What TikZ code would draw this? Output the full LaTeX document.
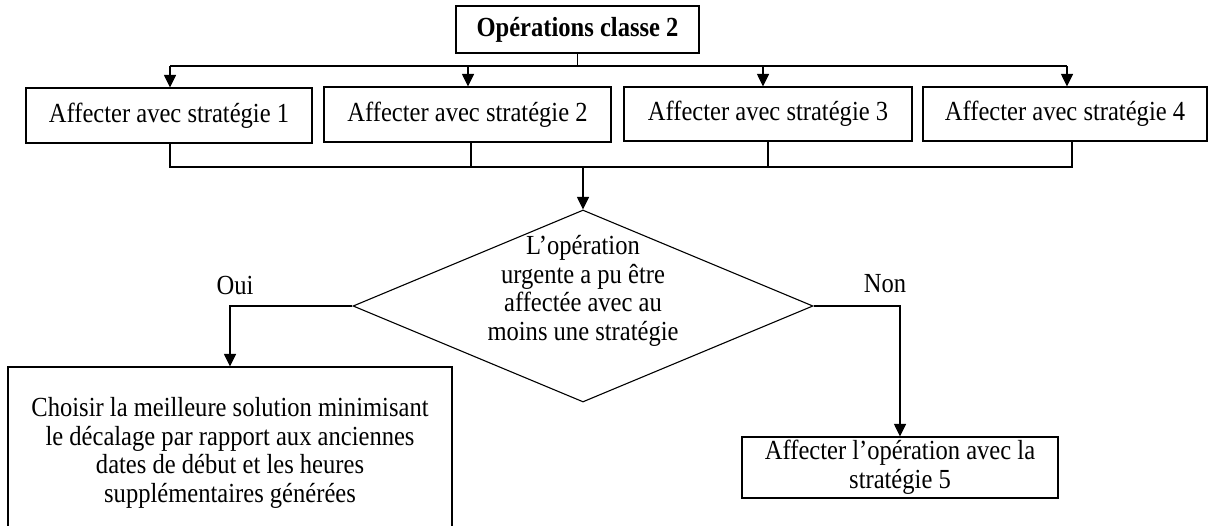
\documentclass[tikz,border=0pt]{standalone}
\usepackage{fontspec}
\setmainfont{Liberation Serif}[FakeStretch=0.89]
\usetikzlibrary{shapes.geometric,arrows.meta,calc}
\begin{document}
\begin{tikzpicture}[x=1pt,y=-1pt, line width=1.1pt,
  txt/.style={font=\fontsize{27.6}{28.7}\selectfont},
  box/.style={draw, rectangle, inner sep=0pt, align=center, txt},
  arr/.style={-{Triangle[length=12.5pt,width=12pt]}},
  lbl/.style={txt, inner sep=0pt, align=center}]
\useasboundingbox (0,0) rectangle (1210,525);
\clip (0,0) rectangle (1210,525);

% top box
\node[box, minimum width=243pt, minimum height=47pt, font=\bfseries\fontsize{27.6}{28.7}\selectfont] (top) at (577.5,29.5) {Opérations classe 2};

% strategy boxes
\node[box, minimum width=286pt, minimum height=55pt] (s1) at (169,115.5) {Affecter avec stratégie 1};
\node[box, minimum width=287pt, minimum height=55pt] (s2) at (467.5,114.5) {Affecter avec stratégie 2};
\node[box, minimum width=288pt, minimum height=54pt] (s3) at (768,114) {Affecter avec stratégie 3};
\node[box, minimum width=284pt, minimum height=54pt] (s4) at (1065,114) {Affecter avec stratégie 4};

% distribution line
\coordinate (h1) at (170,66);
\coordinate (h2) at (468,66);
\coordinate (h3) at (763,66);
\coordinate (h4) at (1067,66);
\draw (top.south) -- (top.south |- h1);
\draw (h1) -- (h4);
\draw[arr] (h1) -- (h1 |- s1.north);
\draw[arr] (h2) -- (h2 |- s2.north);
\draw[arr] (h3) -- (h3 |- s3.north);
\draw[arr] (h4) -- (h4 |- s4.north);

% collecting line
\coordinate (b1) at (170,167);
\coordinate (b2) at (471,167);
\coordinate (b3) at (768,167);
\coordinate (b4) at (1072,167);
\coordinate (bm) at (583,167);
\draw (b1 |- s1.south) -- (b1) -- (b4) -- (b4 |- s4.south);
\draw (b2 |- s2.south) -- (b2);
\draw (b3 |- s3.south) -- (b3);

% decision
\node[draw, diamond, minimum width=460pt, minimum height=192pt, inner sep=0pt] (d) at (583,306) {};
\node[lbl] (dt) at (583,291) {L’opération\\urgente a pu être\\affectée avec au\\moins une stratégie};
\draw[arr] (bm) -- (d.north);

\node[lbl] (oui) at (235,285) {Oui};
\node[lbl] (non) at (885,284) {Non};

% outcomes
\node[box, minimum width=444pt, minimum height=172pt] (c) at (230,453) {Choisir la meilleure solution minimisant\\le décalage par rapport aux anciennes\\dates de début et les heures\\supplémentaires générées};
\node[box, minimum width=316pt, minimum height=61pt] (f) at (900,467.5) {Affecter l’opération avec la\\stratégie 5};

\coordinate (yc) at (230,306);
\coordinate (nc) at (900,306);
\draw[arr] (d.west) -- (yc) -- (c.north);
\draw[arr] (d.east) -- (nc) -- (f.north);
\end{tikzpicture}
\end{document}
